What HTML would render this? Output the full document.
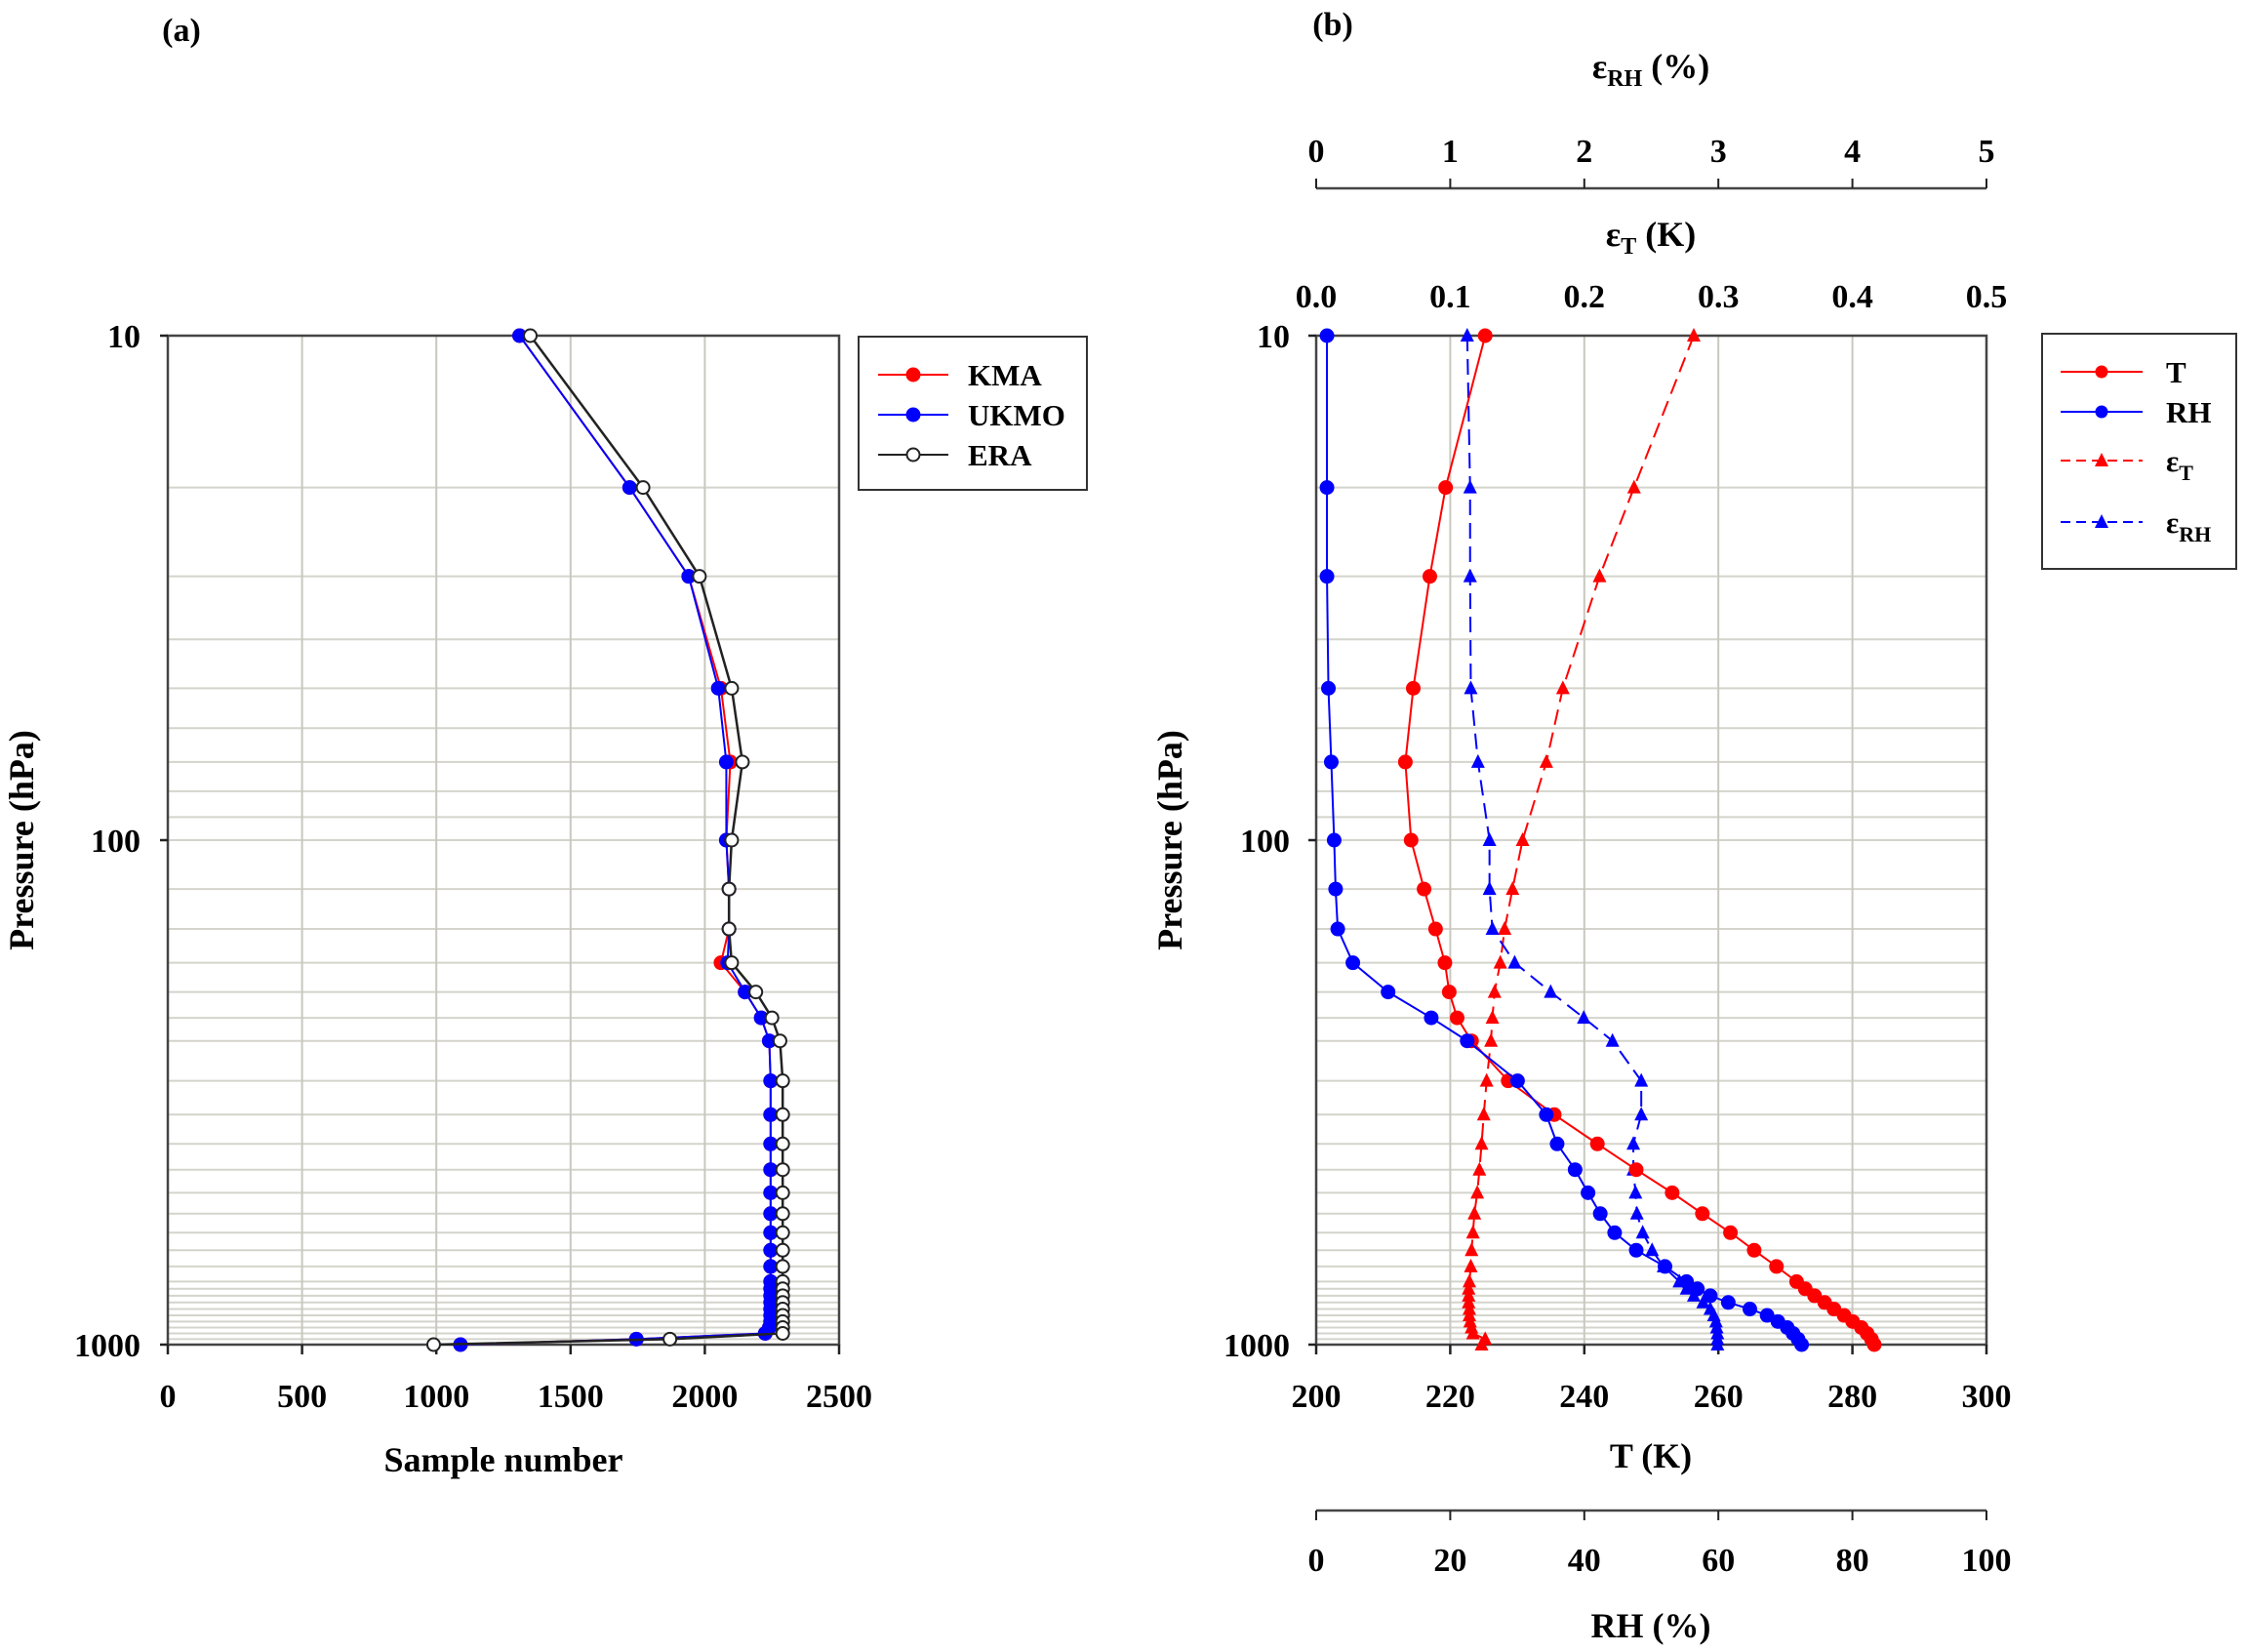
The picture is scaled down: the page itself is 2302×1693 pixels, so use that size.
<!DOCTYPE html>
<html><head><meta charset="utf-8"><style>
html,body{margin:0;padding:0;background:#fff;}
svg{display:block;font-family:"Liberation Serif",serif;font-weight:bold;}
</style></head><body>
<svg id="s" width="2302" height="1693" xmlns="http://www.w3.org/2000/svg">
<text x="186" y="42" font-size="34" text-anchor="middle">(a)</text>
<text x="1366" y="36" font-size="34" text-anchor="middle">(b)</text>
</svg>
<script>
const S=document.getElementById('s');const NS='http://www.w3.org/2000/svg';
function el(t,a,txt){const e=document.createElementNS(NS,t);for(const k in a)e.setAttribute(k,a[k]);if(txt!==undefined)e.textContent=txt;S.appendChild(e);return e;}
const TOP=344,BOT=1378;
const Y=p=>TOP+(Math.log10(p)-1)/2*(BOT-TOP);
const L=[10,20,30,50,70,100,125,150,175,200,225,250,300,350,400,450,500,550,600,650,700,750,775,800,825,850,875,900,925,950,975,1000];
const G=[...new Set([10,20,30,40,50,60,70,80,90,100,200,300,400,500,600,700,800,900,1000].concat(L))];
function frame(x0,x1,ticksX){
  for(const p of G){el('line',{x1:x0,x2:x1,y1:Y(p),y2:Y(p),stroke:'#d4d4cc','stroke-width':2});}
  for(const x of ticksX){el('line',{x1:x,x2:x,y1:TOP,y2:BOT,stroke:'#c8c8c0','stroke-width':2});}
  el('rect',{x:x0,y:TOP,width:x1-x0,height:BOT-TOP,fill:'none',stroke:'#444','stroke-width':2.5});
  for(const p of [10,100,1000]){el('line',{x1:x0-8,x2:x0,y1:Y(p),y2:Y(p),stroke:'#222','stroke-width':2.5});}
  for(const x of ticksX){el('line',{x1:x,x2:x,y1:BOT,y2:BOT+10,stroke:'#222','stroke-width':2.5});}
}
const ax0=172,ax1=860;const AX=v=>ax0+v/2500*(ax1-ax0);
frame(ax0,ax1,[0,500,1000,1500,2000,2500].map(AX));
[[10,'10'],[100,'100'],[1000,'1000']].forEach(([p,t])=>el('text',{x:144,y:Y(p)+12,'font-size':34,'text-anchor':'end'},t));
[0,500,1000,1500,2000,2500].forEach(v=>el('text',{x:AX(v),y:1442,'font-size':34,'text-anchor':'middle'},v));
el('text',{x:516,y:1508,'font-size':36,'text-anchor':'middle'},'Sample number');
el('text',{x:0,y:0,'font-size':36,'text-anchor':'middle',transform:'translate(34,861) rotate(-90)'},'Pressure (hPa)');
const ERA=[1350,1770,1980,2100,2140,2100,2090,2090,2100,2190,2250,2280,2290,2290,2290,2290,2290,2290,2290,2290,2290,2290,2290,2290,2290,2290,2290,2290,2290,2290,1870,990];
const UK=[1310,1720,1940,2050,2080,2080,2090,2090,2085,2150,2210,2240,2245,2245,2245,2245,2245,2245,2245,2245,2245,2245,2245,2245,2245,2245,2245,2245,2240,2225,1745,1090];
const KMA=UK.slice();KMA[3]=2060;KMA[4]=2095;KMA[8]=2060;
function series(xs,ys,color,w,dash,marker,fill,r){
  const pts=xs.map((x,i)=>x+','+ys[i]).join(' ');
  const a={points:pts,fill:'none',stroke:color,'stroke-width':w};if(dash)a['stroke-dasharray']=dash;el('polyline',a);
  xs.forEach((x,i)=>{const y=ys[i];
    if(marker==='c')el('circle',{cx:x,cy:y,r:r,fill:fill,stroke:color,'stroke-width':2});
    else el('polygon',{points:`${x},${y-r-1} ${x-r},${y+r-1} ${x+r},${y+r-1}`,fill:fill});});
}
const LY=L.map(Y);
series(KMA.map(AX),LY,'#ff0000',2,null,'c','#ff0000',6.5);
series(UK.map(AX),LY,'#0000ff',2,null,'c','#0000ff',6.5);
series(ERA.map(AX),LY,'#222',2.5,null,'c','#fff',6.5);
el('rect',{x:880,y:345,width:234,height:157,fill:'#fff',stroke:'#333','stroke-width':2});
[['KMA','#ff0000','#ff0000'],['UKMO','#0000ff','#0000ff'],['ERA','#222','#fff']].forEach(([t,c,f],i)=>{const y=384+i*41;
  el('line',{x1:900,x2:972,y1:y,y2:y,stroke:c,'stroke-width':2});el('circle',{cx:936,cy:y,r:6.5,fill:f,stroke:c,'stroke-width':2});
  el('text',{x:992,y:y+11,'font-size':31},t);});
const bx0=1349,bx1=2036;const BX=zx=>bx0+(zx-270)*(bx1-bx0)/932;
frame(bx0,bx1,[0,1,2,3,4,5].map(i=>bx0+i*(bx1-bx0)/5));
[[10,'10'],[100,'100'],[1000,'1000']].forEach(([p,t])=>el('text',{x:1322,y:Y(p)+12,'font-size':34,'text-anchor':'end'},t));
[200,220,240,260,280,300].forEach((v,i)=>el('text',{x:bx0+i*(bx1-bx0)/5,y:1442,'font-size':34,'text-anchor':'middle'},v));
el('text',{x:1692,y:1504,'font-size':36,'text-anchor':'middle'},'T (K)');
el('text',{x:0,y:0,'font-size':36,'text-anchor':'middle',transform:'translate(1211,861) rotate(-90)'},'Pressure (hPa)');
el('line',{x1:bx0,x2:bx1,y1:1548,y2:1548,stroke:'#444','stroke-width':2.5});
[0,20,40,60,80,100].forEach((v,i)=>{const x=bx0+i*(bx1-bx0)/5;el('line',{x1:x,x2:x,y1:1548,y2:1558,stroke:'#222','stroke-width':2});el('text',{x:x,y:1610,'font-size':34,'text-anchor':'middle'},v);});
el('text',{x:1692,y:1678,'font-size':36,'text-anchor':'middle'},'RH (%)');
['0.0','0.1','0.2','0.3','0.4','0.5'].forEach((v,i)=>el('text',{x:bx0+i*(bx1-bx0)/5,y:315,'font-size':34,'text-anchor':'middle'},v));
const t1=el('text',{x:1692,y:252,'font-size':36,'text-anchor':'middle'});t1.innerHTML='ε<tspan font-size="24" dy="8">T</tspan><tspan dy="-8"> (K)</tspan>';
el('line',{x1:bx0,x2:bx1,y1:193,y2:193,stroke:'#444','stroke-width':2.5});
[0,1,2,3,4,5].forEach(i=>{const x=bx0+i*(bx1-bx0)/5;el('line',{x1:x,x2:x,y1:183,y2:193,stroke:'#222','stroke-width':2});el('text',{x:x,y:166,'font-size':34,'text-anchor':'middle'},i);});
const t2=el('text',{x:1692,y:80,'font-size':36,'text-anchor':'middle'});t2.innerHTML='ε<tspan font-size="24" dy="8">RH</tspan><tspan dy="-8"> (%)</tspan>';
const Tz=[505,450,428,405,394,402,420,436,449,455,466,486,537,601,661,715,765,807,846,879,910,938,950,963,977,990,1004,1016,1028,1036,1042,1046];
const RHz=[285,285,285,287,291,295,297,300,321,370,430,480,550,590,605,630,648,665,685,715,755,785,800,818,843,873,897,912,925,933,940,945];
const ETz=[795,712,664,613,590,557,543,532,526,518,515,513,507,503,500,497,494,490,488,486,485,483,482,482,482,483,483,484,486,488,505,500];
const ERz=[480,484,484,485,495,511,511,515,546,596,642,682,722,722,711,711,714,716,724,737,753,775,785,795,808,818,823,826,827,828,828,828];
series(ETz.map(BX),LY,'#ff0000',2,'16,8','t','#ff0000',7);
series(ERz.map(BX),LY,'#0000ff',2,'16,8','t','#0000ff',7);
series(Tz.map(BX),LY,'#ff0000',2,null,'c','#ff0000',6.5);
series(RHz.map(BX),LY,'#0000ff',2,null,'c','#0000ff',6.5);
el('rect',{x:2093,y:342,width:199,height:241,fill:'#fff',stroke:'#333','stroke-width':2});
[['T','#ff0000',null,'c',381],['RH','#0000ff',null,'c',422],['εT','#ff0000','10,6','t',472],['εRH','#0000ff','10,6','t',535]].forEach(([t,c,d,m,y])=>{
  const a={x1:2112,x2:2196,y1:y,y2:y,stroke:c,'stroke-width':2};if(d)a['stroke-dasharray']=d;el('line',a);
  if(m==='c')el('circle',{cx:2154,cy:y,r:6.5,fill:c});else el('polygon',{points:`2154,${y-8} 2147,${y+6} 2161,${y+6}`,fill:c});
  const tx=el('text',{x:2220,y:y+11,'font-size':31});
  if(t[0]==='ε'){tx.innerHTML='ε<tspan font-size="22" dy="9">'+t.slice(1)+'</tspan>';} else tx.textContent=t;});
</script>
</body></html>
